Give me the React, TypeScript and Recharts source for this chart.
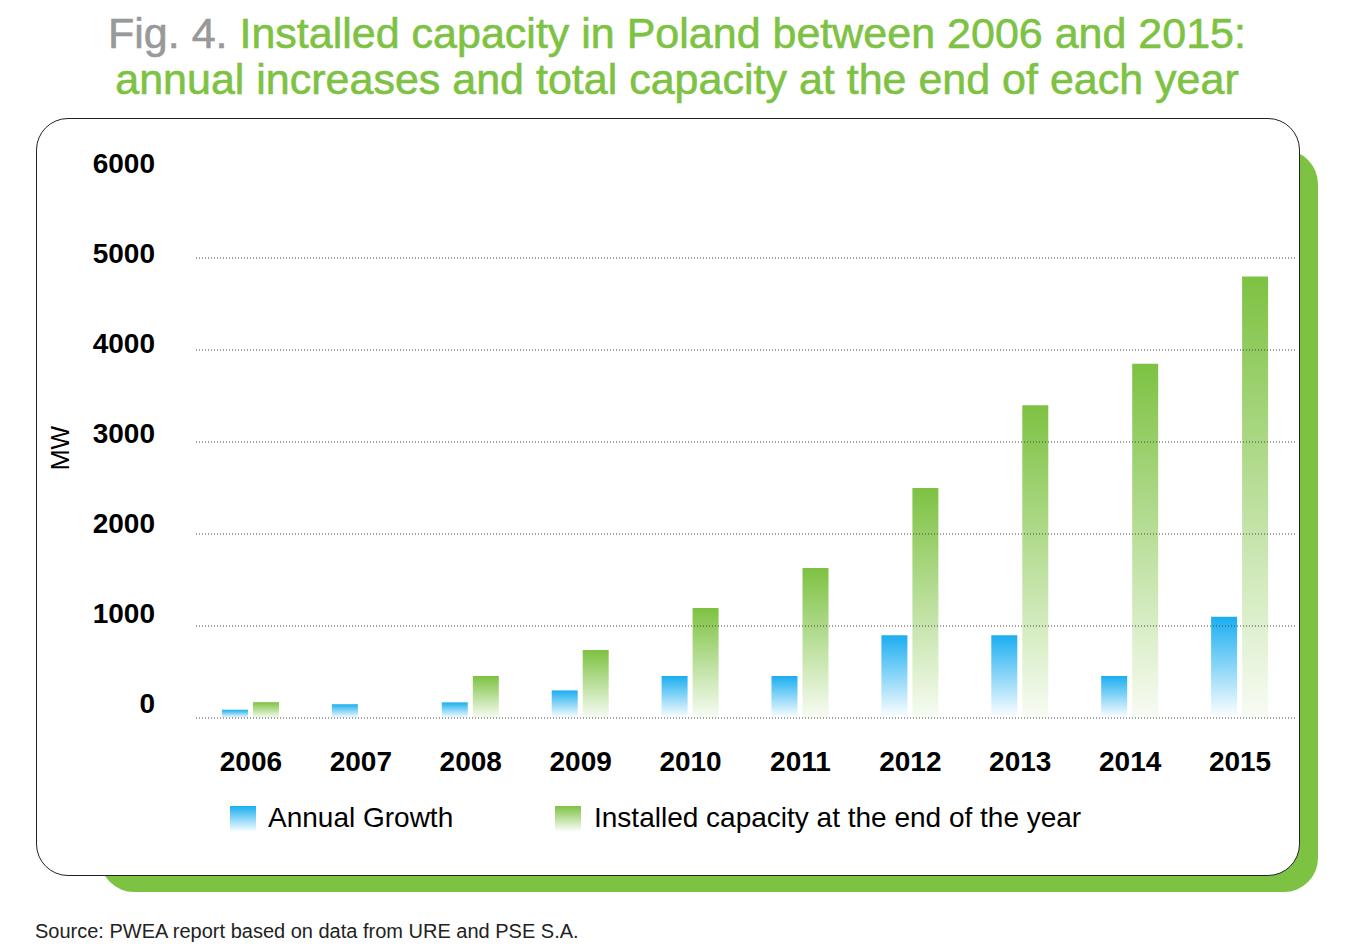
import React from "react";
import { BarChart, Bar, XAxis, YAxis, ReferenceLine } from "recharts";

const years = ["2006", "2007", "2008", "2009", "2010", "2011", "2012", "2013", "2014", "2015"];
const annualGrowth = [90, 150, 170, 300, 456, 456, 900, 900, 456, 1100];
const installed: (number | null)[] = [172, null, 456, 740, 1196, 1630, 2500, 3400, 3850, 4800];
const yTicks = [0, 1000, 2000, 3000, 4000, 5000, 6000];

const data = years.map((year, i) => ({ year, growth: annualGrowth[i], installed: installed[i] }));

const GREEN = "#7dc242";
const BLUE = "#1aaef0";
const FONT = "'Liberation Sans', Arial, sans-serif";

const YTick = (props: any) => {
  const { y, payload } = props;
  // labels drift upward toward the bottom in the original
  const shift = -3 - ((6000 - payload.value) / 6000) * 12;
  return (
    <text x={155} y={y + shift} textAnchor="end" dominantBaseline="central"
      fontFamily={FONT} fontWeight="bold" fontSize={28} fill="#000">
      {payload.value}
    </text>
  );
};

const XTick = (props: any) => {
  const { x, y, payload } = props;
  return (
    <text x={x} y={y + 35} textAnchor="middle" dominantBaseline="central"
      fontFamily={FONT} fontWeight="bold" fontSize={28} fill="#000">
      {payload.value}
    </text>
  );
};

export default function App() {
  return (
    <div style={{ position: "absolute", left: 0, top: 0, width: 1370, height: 952, background: "#fff", fontFamily: FONT }}>
      <div style={{ position: "absolute", left: 0, top: 10, width: 1354, textAlign: "center", fontSize: 43, lineHeight: "46px", color: GREEN, WebkitTextStroke: "0.6px" }}>
        <span style={{ color: "#999" }}>Fig. 4.</span> Installed capacity in Poland between 2006 and 2015:<br />
        annual increases and total capacity at the end of each year
      </div>
      <div style={{ position: "absolute", left: 100, top: 150, width: 1218, height: 742, background: GREEN, borderRadius: 34 }} />
      <div style={{ position: "absolute", left: 36, top: 118, width: 1262, height: 756, background: "#fff", border: "1.5px solid #222", borderRadius: 32 }} />
      <div style={{ position: "absolute", left: 60, top: 448, transform: "translate(-50%,-50%) rotate(-90deg)", fontSize: 25 }}>MW</div>
      <div style={{ position: "absolute", left: 0, top: 0 }}>
        <BarChart width={1370} height={952} data={data} barSize={26} barGap={5}
          margin={{ top: 166, right: 75, bottom: 184, left: 96 }}>
          <defs>
            <linearGradient id="blueGrad" x1="0" y1="0" x2="0" y2="1">
              <stop offset="0%" stopColor={BLUE} />
              <stop offset="100%" stopColor="#ffffff" />
            </linearGradient>
            <linearGradient id="greenGrad" x1="0" y1="0" x2="0" y2="1">
              <stop offset="0%" stopColor={GREEN} />
              <stop offset="100%" stopColor="#f8fcf4" />
            </linearGradient>
          </defs>
          {yTicks.filter((t) => t < 6000).map((t) => (
            <ReferenceLine key={t} y={t} stroke="#444" strokeDasharray="1 2" strokeWidth={1} />
          ))}
          <XAxis dataKey="year" axisLine={false} tickLine={false} tick={<XTick />} height={50} />
          <YAxis domain={[0, 6000]} ticks={yTicks} axisLine={false} tickLine={false} tick={<YTick />} width={100} />
          <Bar dataKey="growth" fill="url(#blueGrad)" isAnimationActive={false} />
          <Bar dataKey="installed" fill="url(#greenGrad)" isAnimationActive={false} />
        </BarChart>
      </div>
      <div style={{ position: "absolute", left: 230, top: 806, width: 26, height: 26, background: `linear-gradient(${BLUE}, #fff)` }} />
      <div style={{ position: "absolute", left: 268, top: 802, fontSize: 28 }}>Annual Growth</div>
      <div style={{ position: "absolute", left: 555, top: 806, width: 26, height: 26, background: `linear-gradient(${GREEN}, #fff)` }} />
      <div style={{ position: "absolute", left: 594, top: 802, fontSize: 28 }}>Installed capacity at the end of the year</div>
      <div style={{ position: "absolute", left: 35, top: 920, fontSize: 20, color: "#222" }}>Source: PWEA report based on data from URE and PSE S.A.</div>
    </div>
  );
}
